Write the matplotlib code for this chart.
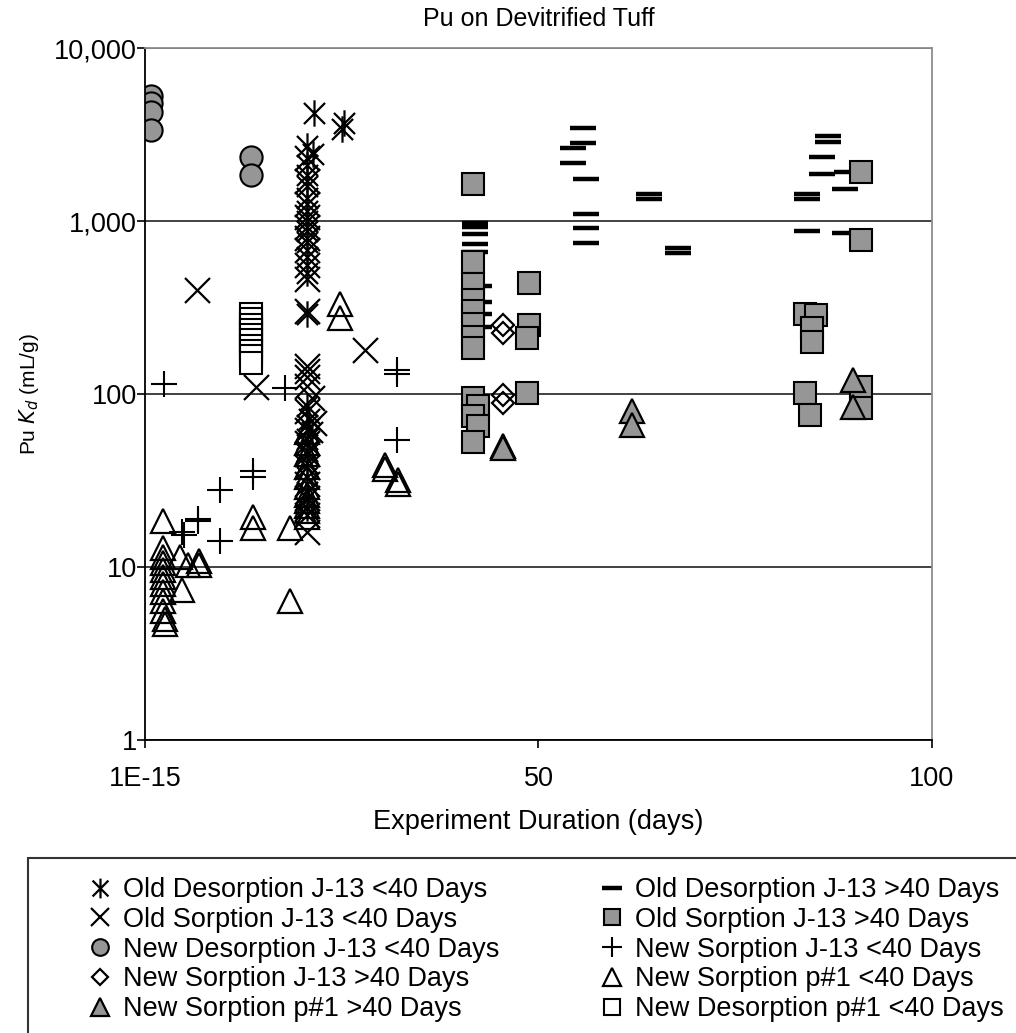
import matplotlib
matplotlib.use("Agg")
import matplotlib.pyplot as plt
from matplotlib.path import Path
from matplotlib.patches import Rectangle
from matplotlib.ticker import FixedLocator, FixedFormatter

plt.rcParams['font.family'] = ['Liberation Sans', 'DejaVu Sans']

# ---- data ----
old_des_lt40_x = [21.5, 25.3, 25.0, 20.6, 21.3, 20.6, 20.6, 20.6, 20.6, 20.6, 20.6, 20.6, 20.6,
                  20.6, 20.6, 20.6, 20.6, 20.9, 20.6, 21.2, 20.6, 20.6, 20.6, 20.6, 20.6, 20.6]
old_des_lt40_y = [4200, 3700, 3400, 2700, 2450, 2100, 1850, 1600, 1350, 1150, 1000, 880, 760,
                  620, 500, 290, 85, 72, 66, 60, 55, 47, 40, 33, 27, 22]

old_sorp_lt40_x = [6.6, 14.1, 27.9, 20.6, 20.6, 20.6, 20.6, 20.6, 20.6, 20.6, 20.6, 20.6, 20.6,
                   20.6, 20.6, 20.6, 20.6, 21.2, 20.6, 21.5, 20.6, 20.6, 20.6, 20.6, 20.6, 20.6,
                   20.6, 20.6]
old_sorp_lt40_y = [400, 110, 180, 2300, 1700, 1250, 1050, 920, 800, 680, 560, 460, 300,
                   145, 135, 125, 112, 95, 80, 68, 62, 52, 45, 38, 30, 25, 20, 16]

new_des_lt40_x = [0.8, 0.8, 0.8, 0.8, 13.5, 13.5]
new_des_lt40_y = [5300, 4800, 4250, 3350, 2340, 1850]

new_sorp_gt40_x = [45.5, 45.5, 45.5, 45.5]
new_sorp_gt40_y = [250, 225, 99, 89]

new_sorp_p1_gt40_x = [45.5, 45.5, 61.9, 61.9, 90.0, 90.0]
new_sorp_p1_gt40_y = [50, 48.5, 80, 66, 120, 84]

old_des_gt40_x = [41.9, 41.9, 41.9, 41.9, 41.9, 42.5, 42.5, 42.5, 42.5, 54.4, 54.4, 55.7, 55.7,
                  56.1, 56.1, 56.1, 56.1, 64.0, 64.0, 67.7, 67.7, 86.8, 86.8, 86.0, 86.0, 89.2,
                  89.0, 84.1, 84.1, 84.1, 89.0]
old_des_gt40_y = [980, 920, 840, 740, 660, 420, 340, 290, 245, 2650, 2170, 3440, 2830,
                  1740, 1100, 910, 750, 1430, 1340, 700, 655, 3100, 2850, 2330, 1880, 1930,
                  1540, 1430, 1340, 870, 850]

old_sorp_gt40_x = [41.7, 41.7, 41.7, 41.7, 41.7, 41.7, 41.7, 41.7, 41.7, 42.3, 41.7, 42.3, 41.7,
                   48.8, 48.8, 48.5, 48.5, 91.0, 91.0, 83.9, 85.2, 84.7, 84.7, 83.9, 84.5, 91.0,
                   91.0]
old_sorp_gt40_y = [1640, 580, 430, 350, 300, 255, 215, 185, 95, 85, 75, 65, 53,
                   440, 250, 212, 101, 1930, 780, 290, 285, 240, 200, 101, 76, 110, 83]

new_sorp_lt40_x = [2.4, 4.7, 4.9, 6.7, 6.7, 9.5, 9.5, 13.7, 13.7, 17.8, 32.0, 32.0, 32.0]
new_sorp_lt40_y = [115, 16.0, 15.4, 19.0, 18.5, 28, 14.2, 36, 33, 108, 138, 130, 54]

new_sorp_p1_lt40_x = [2.3, 2.3, 2.3, 2.3, 2.3, 2.3, 2.3, 2.3, 2.3, 2.3, 2.6, 2.6, 4.4, 4.7,
                      5.5, 6.9, 6.9, 13.7, 13.7, 18.4, 18.4, 24.8, 24.8, 30.5, 30.5, 32.1,
                      32.1, 20.6, 20.6, 20.6, 20.6, 20.6, 20.6, 20.6, 20.6, 20.6, 20.6, 20.6]
new_sorp_p1_lt40_y = [18.5, 12.8, 11.5, 10.5, 9.6, 8.8, 8.0, 7.2, 6.4, 5.6, 5.0, 4.7, 11.5, 7.4,
                      10.3, 10.8, 10.3, 19.4, 16.8, 16.8, 6.4, 330, 275, 39, 37, 32,
                      30, 60, 52, 45, 38, 33, 29, 26, 24, 22.5, 21, 19.5]

new_des_p1_lt40_x = [13.5] * 10
new_des_p1_lt40_y = [290, 270, 250, 235, 220, 205, 190, 178, 165, 152]

yticks = [1, 10, 100, 1000, 10000]
ytick_labels = ['1', '10', '100', '1,000', '10,000']
xticks = [0, 50, 100]
xtick_labels = ['1E-15', '50', '100']

# six-arm asterisk: vertical bar + X
asterisk = Path([(0, -1), (0, 1), (-0.8, -0.8), (0.8, 0.8), (-0.8, 0.8), (0.8, -0.8)],
                [Path.MOVETO, Path.LINETO, Path.MOVETO, Path.LINETO, Path.MOVETO, Path.LINETO])

gray = '#969696'
styles = [
    ('Old Desorption J-13 <40 Days', old_des_lt40_x, old_des_lt40_y,
     dict(marker=asterisk, ms=19, mfc='none', mec='k', mew=1.6)),
    ('Old Sorption J-13 <40 Days', old_sorp_lt40_x, old_sorp_lt40_y,
     dict(marker='x', ms=18, mec='k', mew=1.6)),
    ('New Desorption J-13 <40 Days', new_des_lt40_x, new_des_lt40_y,
     dict(marker='o', ms=16, mfc=gray, mec='k', mew=1.5)),
    ('New Sorption J-13 >40 Days', new_sorp_gt40_x, new_sorp_gt40_y,
     dict(marker='D', ms=11.5, mfc='none', mec='k', mew=1.6)),
    ('New Sorption p#1 >40 Days', new_sorp_p1_gt40_x, new_sorp_p1_gt40_y,
     dict(marker='^', ms=17, mfc=gray, mec='k', mew=1.6)),
    ('Old Desorption J-13 >40 Days', old_des_gt40_x, old_des_gt40_y,
     dict(marker='_', ms=19, mec='k', mew=3.2)),
    ('Old Sorption J-13 >40 Days', old_sorp_gt40_x, old_sorp_gt40_y,
     dict(marker='s', ms=16, mfc=gray, mec='k', mew=1.5)),
    ('New Sorption J-13 <40 Days', new_sorp_lt40_x, new_sorp_lt40_y,
     dict(marker='+', ms=19, mec='k', mew=1.5)),
    ('New Sorption p#1 <40 Days', new_sorp_p1_lt40_x, new_sorp_p1_lt40_y,
     dict(marker='^', ms=17, mfc='none', mec='k', mew=1.6)),
    ('New Desorption p#1 <40 Days', new_des_p1_lt40_x, new_des_p1_lt40_y,
     dict(marker='s', ms=16, mfc='white', mec='k', mew=1.5)),
]

fig = plt.figure(figsize=(10.16, 10.33), dpi=100)
ax = fig.add_axes([0.1427, 0.2836, 0.7746, 0.6699])

# draw order so filled symbols sit on top like the original
draw_order = [9, 8, 7, 0, 1, 2, 3, 5, 6, 4]
handles = {}
for i in draw_order:
    label, xs, ys, st = styles[i]
    ln, = ax.plot(xs, ys, linestyle='none', **st)
    handles[i] = ln

ax.set_yscale('log')
ax.set_xlim(0, 100)
ax.set_ylim(1, 10000)
ax.yaxis.set_major_locator(FixedLocator(yticks))
ax.yaxis.set_major_formatter(FixedFormatter(ytick_labels))
ax.yaxis.set_minor_locator(FixedLocator([]))
ax.set_xticks(xticks)
ax.set_xticklabels(xtick_labels)
ax.tick_params(labelsize=19.5, length=6, width=1.2, direction='out')
ax.tick_params(axis='y', pad=0)
ax.tick_params(axis='x', pad=13)
ax.grid(axis='y', which='major', color='#333333', lw=1.3)
ax.set_axisbelow(True)
for s in ['left', 'bottom']:
    ax.spines[s].set_color('k')
    ax.spines[s].set_linewidth(1.3)
for s in ['top', 'right']:
    ax.spines[s].set_color('#8c8c8c')
    ax.spines[s].set_linewidth(1.3)

ax.set_title('Pu on Devitrified Tuff', fontsize=18, pad=16)
ax.set_xlabel('Experiment Duration (days)', fontsize=19.5, labelpad=12)
ax.set_ylabel('Pu $K_d$ (mL/g)', fontsize=15, labelpad=9)

# legend box running off the page like the original
fig.patches.append(Rectangle((28 / 1016, -0.05), 1.1, 0.1694 + 0.05, transform=fig.transFigure,
                             fill=False, ec='#333333', lw=1.5))
order = list(range(10))
leg = fig.legend([handles[i] for i in order], [styles[i][0] for i in order],
                 loc='upper left', bbox_to_anchor=(0.0876, 0.151), ncol=2, frameon=False,
                 fontsize=19.5, markerscale=0.75, handlelength=0.8, handletextpad=0.45,
                 labelspacing=0.14, columnspacing=3.75, borderpad=0, borderaxespad=0)

fig.savefig('out.png', dpi=100)
